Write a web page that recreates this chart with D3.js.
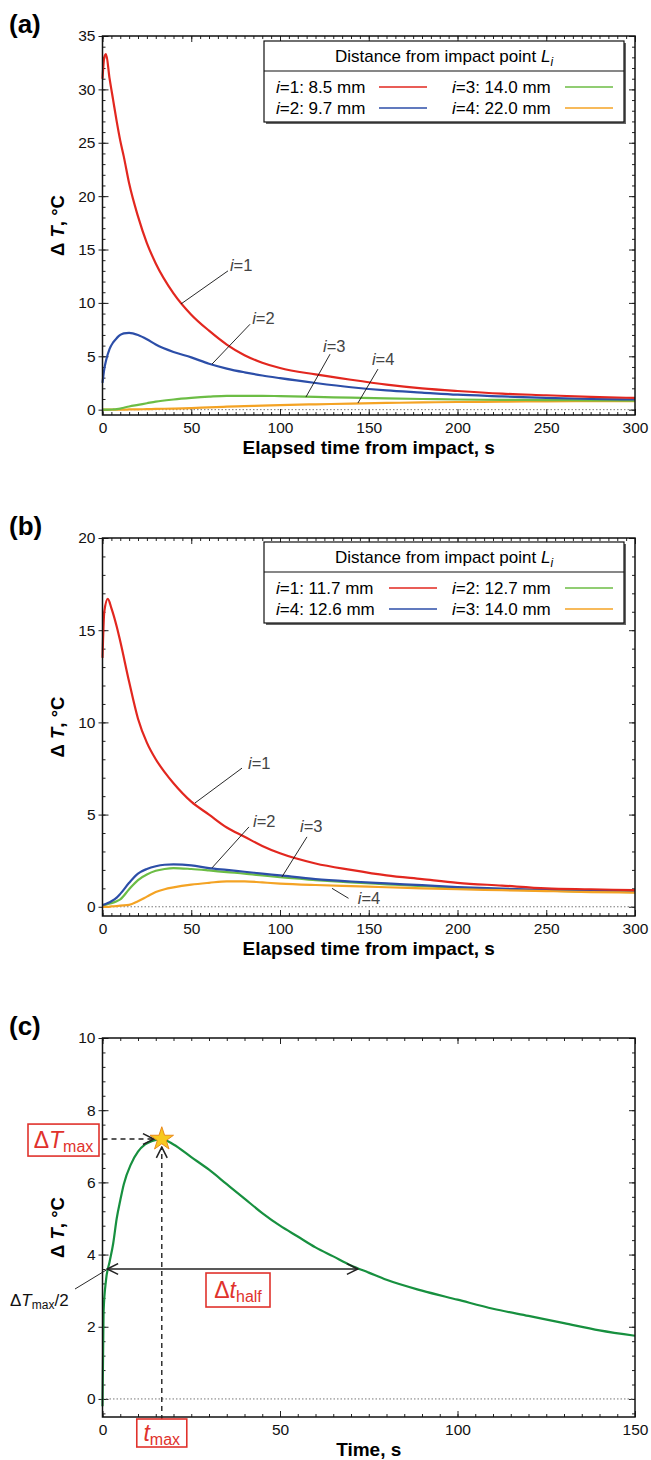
<!DOCTYPE html>
<html>
<head>
<meta charset="utf-8">
<script src="https://cdn.jsdelivr.net/npm/d3@7"></script>
<style>
body { margin: 0; background: #fff; }
text { font-family: "Liberation Sans", Arial, Helvetica, sans-serif; }
</style>
</head>
<body>
<svg id="chart" width="651" height="1460"></svg>
<script>
// ---- data ----
// (a) distance series, time in s, dT in degC
const timeA = [0, 1, 2, 4, 6, 8, 10, 12, 15, 20, 25, 30, 40, 50, 60, 70, 80, 90, 100, 120, 140, 160, 180, 200, 225, 250, 275, 300];
const a1 = [31, 33, 33.3, 31.0, 29.0, 27.0, 25.2, 23.7, 21.2, 18.1, 15.6, 13.7, 10.9, 8.9, 7.4, 6.1, 5.1, 4.4, 3.9, 3.3, 2.8, 2.35, 2.0, 1.75, 1.5, 1.35, 1.2, 1.1];
const a2 = [2.5, 3.8, 4.6, 5.7, 6.3, 6.7, 7.0, 7.15, 7.2, 7.0, 6.6, 6.1, 5.4, 4.9, 4.3, 3.85, 3.5, 3.2, 2.95, 2.5, 2.1, 1.8, 1.6, 1.4, 1.25, 1.1, 1.0, 0.95];
const a3 = [0, 0, 0, 0, 0.02, 0.05, 0.1, 0.18, 0.3, 0.45, 0.6, 0.75, 0.95, 1.1, 1.22, 1.3, 1.3, 1.3, 1.27, 1.2, 1.12, 1.05, 1.0, 0.95, 0.92, 0.9, 0.87, 0.85];
const a4 = [0, 0, 0, 0, 0, 0, 0, 0, 0.02, 0.03, 0.05, 0.07, 0.1, 0.15, 0.22, 0.28, 0.33, 0.38, 0.43, 0.5, 0.57, 0.63, 0.68, 0.72, 0.75, 0.78, 0.8, 0.8];
const legendA = ["1: 8.5 mm", "2: 9.7 mm", "3: 14.0 mm", "4: 22.0 mm"];

// (b)
const timeB = [0, 1, 3, 5, 8, 10, 15, 20, 25, 30, 35, 40, 50, 60, 70, 80, 90, 100, 120, 140, 160, 180, 200, 225, 250, 275, 300];
const b1 = [13.5, 16.0, 16.7, 16.2, 15.2, 14.4, 12.2, 10.2, 8.9, 8.0, 7.3, 6.7, 5.7, 5.0, 4.3, 3.8, 3.3, 2.9, 2.35, 2.0, 1.7, 1.5, 1.3, 1.15, 1.0, 0.95, 0.9];
const b2 = [0.1, 0.1, 0.15, 0.2, 0.3, 0.4, 0.95, 1.45, 1.75, 1.95, 2.05, 2.1, 2.05, 1.97, 1.88, 1.8, 1.7, 1.6, 1.45, 1.32, 1.22, 1.12, 1.03, 0.94, 0.87, 0.83, 0.8];
const b3 = [0, 0, 0, 0.02, 0.04, 0.06, 0.1, 0.3, 0.55, 0.8, 0.95, 1.05, 1.2, 1.3, 1.38, 1.38, 1.32, 1.26, 1.18, 1.12, 1.06, 1.0, 0.95, 0.9, 0.85, 0.8, 0.77];
const b4 = [0.1, 0.12, 0.2, 0.3, 0.5, 0.7, 1.3, 1.8, 2.05, 2.2, 2.28, 2.3, 2.25, 2.1, 2.0, 1.9, 1.8, 1.7, 1.5, 1.37, 1.27, 1.17, 1.07, 0.98, 0.92, 0.88, 0.85];
const legendB = ["1: 11.7 mm", "4: 12.6 mm", "2: 12.7 mm", "3: 14.0 mm"];

// (c) one record, 0-150 s
const timeC = [0, 0.3, 1, 2, 3, 4, 5, 6, 8, 10, 12, 14, 16.7, 20, 25, 30, 35, 40, 45, 50, 55, 60, 65, 70, 75, 80, 90, 100, 110, 120, 130, 140, 150];
const c2 = [-0.2, 2.4, 3.3, 3.8, 4.3, 5.0, 5.5, 5.95, 6.5, 6.85, 7.05, 7.15, 7.2, 7.05, 6.7, 6.35, 5.95, 5.55, 5.15, 4.8, 4.5, 4.2, 3.95, 3.7, 3.5, 3.3, 3.0, 2.75, 2.5, 2.3, 2.1, 1.9, 1.75];
const tPeak = 16.7, dTPeak = 7.2, dTHalf = 3.6, tHalfStart = 1.35, tHalfEnd = 71.9;

const red = "#e2271f", blue = "#2c4ea8", lightGreen = "#6cbd45", orange = "#f4a324", darkGreen = "#17903f", boxRed = "#e0322c";

const svg = d3.select("#chart");
const X0 = 102.5, X1 = 635;

// arrowhead (open chevron)
const defs = svg.append("defs");
defs.append("marker").attr("id", "chev").attr("viewBox", "0 0 12 12")
  .attr("refX", 11).attr("refY", 6).attr("markerWidth", 13).attr("markerHeight", 13)
  .attr("markerUnits", "userSpaceOnUse").attr("orient", "auto-start-reverse")
  .append("path").attr("d", "M1,1 L11,6 L1,11").attr("fill", "none").attr("stroke", "#222").attr("stroke-width", 1.4);

function drawPanel(p) {
  const g = svg.append("g");
  const x = d3.scaleLinear().domain([0, p.xMax]).range([X0, X1]);
  const y = d3.scaleLinear().domain([-0.5, p.yMax]).range([p.bottom, p.top]);
  const xMinor = d3.range(0, p.xMax + 0.01, p.xMinorStep);
  const yMinor = d3.range(0, p.yMax + 0.01, p.yMinorStep).concat(p.yMinorStep < 0.5 ? [-p.yMinorStep] : []);
  const xMajor = d3.range(0, p.xMax + 0.01, p.xMajorStep);
  const yMajor = d3.range(0, p.yMax + 0.01, p.yMajorStep);
  const noDomain = s => s.select(".domain").remove();

  // minor ticks, all inward
  g.append("g").attr("transform", `translate(0,${p.bottom})`)
    .call(d3.axisBottom(x).tickValues(xMinor).tickSize(-3).tickFormat("")).call(noDomain);
  g.append("g").attr("transform", `translate(0,${p.top})`)
    .call(d3.axisTop(x).tickValues(xMinor).tickSize(-3).tickFormat("")).call(noDomain);
  g.append("g").attr("transform", `translate(${X0},0)`)
    .call(d3.axisLeft(y).tickValues(yMinor).tickSize(-3).tickFormat("")).call(noDomain);
  g.append("g").attr("transform", `translate(${X1},0)`)
    .call(d3.axisRight(y).tickValues(yMinor).tickSize(-3).tickFormat("")).call(noDomain);

  // major ticks
  const xb = g.append("g").attr("transform", `translate(0,${p.bottom})`)
    .call(d3.axisBottom(x).tickValues(xMajor).tickSize(-6).tickPadding(7).tickFormat(d3.format("d"))).call(noDomain);
  g.append("g").attr("transform", `translate(0,${p.top})`)
    .call(d3.axisTop(x).tickValues(xMajor).tickSize(-6).tickFormat("")).call(noDomain);
  const yl = g.append("g").attr("transform", `translate(${X0},0)`)
    .call(d3.axisLeft(y).tickValues(yMajor).tickSize(4).tickPadding(3).tickFormat(d3.format("d"))).call(noDomain);
  g.append("g").attr("transform", `translate(${X0},0)`)
    .call(d3.axisLeft(y).tickValues(yMajor).tickSize(-6).tickFormat("")).call(noDomain);
  g.append("g").attr("transform", `translate(${X1},0)`)
    .call(d3.axisRight(y).tickValues(yMajor).tickSize(-6).tickFormat("")).call(noDomain);
  g.selectAll(".tick line").attr("stroke", "#222");
  [xb, yl].forEach(a => a.selectAll("text").attr("font-size", 15.5).attr("fill", "#111")
    .attr("font-family", "'Liberation Sans', Arial, sans-serif"));

  // zero line
  g.append("line").attr("x1", X0).attr("x2", X1).attr("y1", y(0)).attr("y2", y(0))
    .attr("stroke", "#777").attr("stroke-width", 1).attr("stroke-dasharray", "1.5,2");

  // series
  const line = d3.line().x(d => x(d[0])).y(d => y(d[1])).curve(d3.curveMonotoneX);
  p.series.forEach(s => {
    g.append("path").datum(d3.zip(p.time, s.values)).attr("d", line)
      .attr("fill", "none").attr("stroke", s.color).attr("stroke-width", 2.2);
  });

  // frame
  g.append("rect").attr("x", X0).attr("y", p.top).attr("width", X1 - X0).attr("height", p.bottom - p.top)
    .attr("fill", "none").attr("stroke", "#111").attr("stroke-width", 1.5);

  // axis titles
  g.append("text").attr("x", (X0 + X1) / 2).attr("y", p.bottom + 39).attr("text-anchor", "middle")
    .attr("font-size", 19).attr("font-weight", "bold").text(p.xTitle);
  const yt = g.append("text").attr("transform", `translate(64,${(p.top + p.bottom) / 2}) rotate(-90)`)
    .attr("text-anchor", "middle").attr("font-size", 18.5).attr("font-weight", "bold");
  yt.append("tspan").text("\u0394 ");
  yt.append("tspan").attr("font-style", "italic").text("T");
  yt.append("tspan").text(", \u00b0C");

  // panel letter
  g.append("text").attr("x", 9).attr("y", p.top - 3).attr("font-size", 26).attr("font-weight", "bold").text(p.letter);

  return { g, x, y };
}

function drawLegend(g, top, labels, colors, lineStart) {
  const L = 264, R = 624;
  g.append("rect").attr("x", L + 2).attr("y", top + 2).attr("width", R - L).attr("height", 81).attr("fill", "#666");
  g.append("rect").attr("x", L).attr("y", top).attr("width", R - L).attr("height", 81)
    .attr("fill", "#fff").attr("stroke", "#111").attr("stroke-width", 1.2);
  g.append("line").attr("x1", L).attr("x2", R).attr("y1", top + 30).attr("y2", top + 30).attr("stroke", "#111").attr("stroke-width", 1.2);
  const h = g.append("text").attr("x", (L + R) / 2).attr("y", top + 21).attr("text-anchor", "middle").attr("font-size", 17);
  h.append("tspan").text("Distance from impact point ");
  h.append("tspan").attr("font-style", "italic").text("L");
  h.append("tspan").attr("font-style", "italic").attr("font-size", 12).attr("dy", 4).text("i");
  labels.forEach((lab, k) => {
    const col = Math.floor(k / 2), row = k % 2;
    const tx = col === 0 ? 276 : 452;
    const ty = top + 46 + row * 21;
    const t = g.append("text").attr("x", tx).attr("y", ty).attr("dy", "0.35em").attr("font-size", 17);
    t.append("tspan").attr("font-style", "italic").text("i");
    t.append("tspan").text("=" + lab);
    const lx = col === 0 ? lineStart : 565;
    g.append("line").attr("x1", lx).attr("x2", lx + 48).attr("y1", ty).attr("y2", ty)
      .attr("stroke", colors[k]).attr("stroke-width", 1.6);
  });
}

function annotate(pan, notes) {
  notes.forEach(n => {
    pan.g.append("line").attr("x1", pan.x(n.from[0])).attr("y1", pan.y(n.from[1]))
      .attr("x2", pan.x(n.to[0])).attr("y2", pan.y(n.to[1])).attr("stroke", "#111").attr("stroke-width", 0.9);
    const t = pan.g.append("text").attr("x", pan.x(n.at[0])).attr("y", pan.y(n.at[1])).attr("dy", "0.35em")
      .attr("font-size", 16.5).attr("fill", "#444");
    t.append("tspan").attr("font-style", "italic").text("i");
    t.append("tspan").text("=" + n.i);
  });
}

// ---- panel (a) ----
const pa = drawPanel({
  letter: "(a)", top: 36, bottom: 415, yMax: 35, xMax: 300,
  xMajorStep: 50, xMinorStep: 5, yMajorStep: 5, yMinorStep: 1,
  time: timeA, xTitle: "Elapsed time from impact, s",
  series: [{ values: a4, color: orange }, { values: a3, color: lightGreen }, { values: a2, color: blue }, { values: a1, color: red }]
});
drawLegend(pa.g, 41, legendA, [red, blue, lightGreen, orange], 379);
annotate(pa, [
  { i: 1, at: [71.8, 13.5], from: [70.7, 13.0], to: [44.2, 9.9] },
  { i: 2, at: [84.3, 8.6], from: [83.1, 8.0], to: [61.7, 4.27] },
  { i: 3, at: [124.2, 5.9], from: [128.2, 5.2], to: [114.6, 1.18] },
  { i: 4, at: [151.8, 4.7], from: [155.2, 3.8], to: [143.9, 0.62] }
]);

// ---- panel (b) ----
const pb = drawPanel({
  letter: "(b)", top: 538, bottom: 916, yMax: 20, xMax: 300,
  xMajorStep: 50, xMinorStep: 5, yMajorStep: 5, yMinorStep: 1,
  time: timeB, xTitle: "Elapsed time from impact, s",
  series: [{ values: b2, color: lightGreen }, { values: b4, color: blue }, { values: b3, color: orange }, { values: b1, color: red }]
});
drawLegend(pb.g, 542, legendB, [red, blue, lightGreen, orange], 389);
annotate(pb, [
  { i: 1, at: [82, 7.8], from: [78.6, 7.52], to: [52.1, 5.63] },
  { i: 2, at: [84.8, 4.65], from: [82.5, 4.33], to: [61.7, 2.11] },
  { i: 3, at: [111.3, 4.39], from: [115.2, 3.79], to: [101.1, 1.62] },
  { i: 4, at: [143.8, 0.46], from: [138.6, 0.46], to: [129.3, 1.0] }
]);

// ---- panel (c) ----
const pc = drawPanel({
  letter: "(c)", top: 1038, bottom: 1417, yMax: 10, xMax: 150,
  xMajorStep: 50, xMinorStep: 5, yMajorStep: 2, yMinorStep: 0.4,
  time: timeC, xTitle: "Time, s",
  series: [{ values: c2, color: darkGreen }]
});
const gc = pc.g, xc = pc.x, yc = pc.y;

// dashed guides to the peak
gc.append("line").attr("x1", xc(0)).attr("x2", xc(tPeak) - 8).attr("y1", yc(dTPeak)).attr("y2", yc(dTPeak))
  .attr("stroke", "#222").attr("stroke-width", 1.4).attr("stroke-dasharray", "5,4").attr("marker-end", "url(#chev)");
gc.append("line").attr("x1", xc(tPeak)).attr("x2", xc(tPeak)).attr("y1", 1420).attr("y2", yc(dTPeak) + 8)
  .attr("stroke", "#222").attr("stroke-width", 1.4).attr("stroke-dasharray", "5,4").attr("marker-end", "url(#chev)");
gc.append("path").attr("d", d3.symbol(d3.symbolStar).size(170)())
  .attr("transform", `translate(${xc(tPeak)},${yc(dTPeak)})`)
  .attr("fill", "#f7c91f").attr("stroke", "#ea8a1c").attr("stroke-width", 1);

// half-width arrow
gc.append("line").attr("x1", xc(tHalfStart)).attr("x2", xc(tHalfEnd)).attr("y1", yc(dTHalf)).attr("y2", yc(dTHalf))
  .attr("stroke", "#222").attr("stroke-width", 1.4)
  .attr("marker-start", "url(#chev)").attr("marker-end", "url(#chev)");

// dTmax/2 label
gc.append("line").attr("x1", 75).attr("y1", yc(dTHalf) + 20).attr("x2", xc(tHalfStart) - 1).attr("y2", yc(dTHalf) + 1)
  .attr("stroke", "#111").attr("stroke-width", 0.9);
const hl = gc.append("text").attr("x", 10).attr("y", yc(dTHalf) + 37).attr("font-size", 17).attr("fill", "#111");
hl.append("tspan").text("\u0394");
hl.append("tspan").attr("font-style", "italic").text("T");
hl.append("tspan").attr("font-size", 12).attr("dy", 3).text("max");
hl.append("tspan").attr("dy", -3).text("/2");

function redBox(cx, cy, w, h, main, sub) {
  gc.append("rect").attr("x", cx - w / 2).attr("y", cy - h / 2).attr("width", w).attr("height", h)
    .attr("fill", "#fff").attr("stroke", boxRed).attr("stroke-width", 1.6);
  const t = gc.append("text").attr("x", cx).attr("y", cy + 8).attr("text-anchor", "middle").attr("fill", boxRed).attr("font-size", 23);
  main.forEach(m => t.append("tspan").attr("font-style", m.it ? "italic" : "normal").text(m.s));
  t.append("tspan").attr("font-size", 16).attr("dy", 4).text(sub);
}
redBox(63.5, yc(dTPeak) + 1, 71, 32, [{ s: "\u0394" }, { s: "T", it: true }], "max");
redBox(238, yc(dTHalf) + 21, 64, 34, [{ s: "\u0394" }, { s: "t", it: true }], "half");
redBox(xc(tPeak), 1433, 50, 28, [{ s: "t", it: true }], "max");
</script>
</body>
</html>
